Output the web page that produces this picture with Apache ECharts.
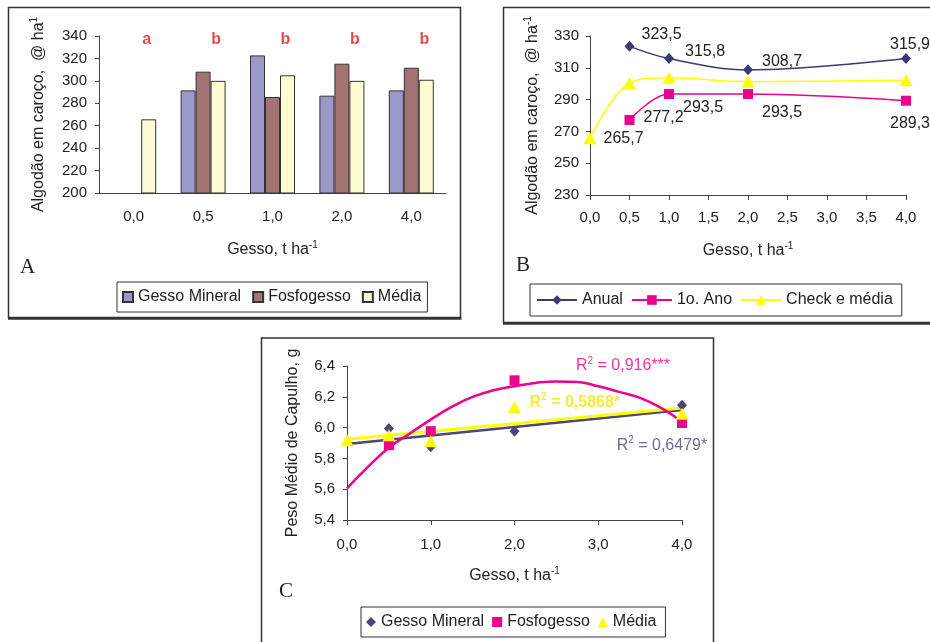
<!DOCTYPE html>
<html><head><meta charset="utf-8">
<script src="https://cdn.jsdelivr.net/npm/echarts@6/dist/echarts.min.js"></script>
<style>html,body{margin:0;padding:0;background:#fff}#c{width:930px;height:642px}</style>
</head><body><div id="c"></div>
<script>
// ---------- Panel A (bars) ----------
const catA = ['0,0', '0,5', '1,0', '2,0', '4,0'];
const gessoMineralA = [null, 291.5, 322.7, 286.8, 291.5];
const fosfogessoA = [null, 308.2, 285.6, 315.3, 311.7];
const mediaA = [265.7, 300.0, 305.0, 300.0, 301.0];
const lettersA = ['a', 'b', 'b', 'b', 'b'];
const lettersLevelA = 336.5;
const yTicksA = [200, 220, 240, 260, 280, 300, 320, 340];

// ---------- Panel B (lines) ----------
const doseB = [0, 0.5, 1.0, 2.0, 4.0];
const anualB = [null, 323.5, 315.8, 308.7, 315.9];
const primeiroAnoB = [null, 277.2, 293.5, 293.5, 289.3];
const checkMediaB = [265.7, 300.3, 303.8, 301.3, 302.1];
const yTicksB = [230, 250, 270, 290, 310, 330];
const xTicksB = [0, 0.5, 1.0, 1.5, 2.0, 2.5, 3.0, 3.5, 4.0];

// ---------- Panel C (scatter + trends) ----------
const doseC = [0, 0.5, 1.0, 2.0, 4.0];
const gessoMineralC = [null, 5.994, 5.875, 5.977, 6.145];
const fosfogessoC = [null, 5.886, 5.977, 6.307, 6.03];
const mediaC = [5.918, 5.95, 5.912, 6.134, 6.09];
const trendX = [0, 4];
const gmTrendC = [5.893, 6.115];
const mediaTrendC = [5.925, 6.128];
const fgCurveX = [0, 0.25, 0.5, 0.75, 1.0, 1.25, 1.5, 1.75, 2.0, 2.25, 2.5, 2.75, 3.0, 3.25, 3.5, 3.75, 4.0];
const fgCurveC = [5.605, 5.745, 5.869, 5.962, 6.052, 6.134, 6.199, 6.242, 6.268, 6.29, 6.30, 6.296, 6.268, 6.232, 6.193, 6.128, 6.037];
const r2Texts = ['0,916***', '0,5868*', '0,6479*'];
const r2AnchorX = [3.296, 2.72, 3.76];
const r2AnchorY = [6.4, 6.163, 5.886];
const yTicksC = [5.4, 5.6, 5.8, 6.0, 6.2, 6.4];
const xTicksC = [0, 1, 2, 3, 4];

// ---------- styling ----------
const FONT = '"Liberation Sans", Arial, Helvetica, sans-serif';
const TXT = '#222';
const AX = '#444';
const NAVY = '#3c3a72';
const MAG = '#ec008c';
const YEL = '#ffff00';
const CLEAR = 'rgba(0,0,0,0)';
const comma1 = v => Number(v).toFixed(1).replace('.', ',');
const pairs = (xs, ys) => xs.map((x, i) => ys[i] == null ? null : [x, ys[i]]).filter(p => p);
const supRich = {
  t: { fontSize: 16, color: TXT, fontFamily: FONT, lineHeight: 20 },
  s: { fontSize: 10, color: TXT, fontFamily: FONT, verticalAlign: 'top' }
};
function valueAxisCommon(extra) {
  return Object.assign({
    axisLine: { show: true, lineStyle: { color: AX, width: 1 } },
    axisTick: { show: true, length: 4, lineStyle: { color: AX } },
    splitLine: { show: false },
    axisLabel: { fontSize: 15, color: TXT, fontFamily: FONT },
    nameTextStyle: { rich: supRich }
  }, extra);
}

// label placements for panel B (style only)
const anualLabelPos = [null, ['right', 0, -12], ['right', 4, -7], ['right', 2, -8], ['top', 4, 7]];
const anoLabelPos = [null, ['right', 2, -2], ['right', 2, 14], ['right', 2, 19], ['bottom', 4, 3]];
const checkLabelPos = [['right', 0, 0], null, null, null, null];
function labeledData(ys, pos) {
  const out = [];
  doseB.forEach((x, i) => {
    if (ys[i] == null) return;
    const item = { value: [x, ys[i]] };
    if (pos[i]) {
      item.label = { show: true, position: pos[i][0], distance: 7, offset: [pos[i][1], pos[i][2]],
        formatter: p => comma1(p.value[1]), fontSize: 16, color: TXT, fontFamily: FONT };
    }
    out.push(item);
  });
  return out;
}

const r2Colors = [MAG, '#f2ea00', '#4a4878'];
const r2Weights = ['normal', 'bold', 'normal'];
const r2Data = pairs(r2AnchorX, r2AnchorY).map((v, i) => ({
  value: v,
  label: { rich: {
    r: { fontSize: 16, color: r2Colors[i], fontWeight: r2Weights[i], fontFamily: FONT, lineHeight: 20 },
    s: { fontSize: 10, color: r2Colors[i], fontWeight: r2Weights[i], fontFamily: FONT, verticalAlign: 'top' }
  } }
}));

const chart = echarts.init(document.getElementById('c'), null, { renderer: 'canvas' });
const option = {
  backgroundColor: '#fff',
  animation: false,
  textStyle: { fontFamily: FONT },
  grid: [
    { left: 99, top: 36, width: 347, height: 157 },
    { left: 590, top: 36, width: 316, height: 159 },
    { left: 347, top: 366, width: 335, height: 154 }
  ],
  xAxis: [
    {
      gridIndex: 0, type: 'category', data: catA,
      axisLine: { lineStyle: { color: AX } },
      axisTick: { length: 5, lineStyle: { color: AX } },
      axisLabel: { fontSize: 15, color: TXT, margin: 16, fontFamily: FONT },
      name: '{t|Gesso, t ha}{s|-1}', nameLocation: 'middle', nameGap: 47,
      nameTextStyle: { rich: supRich }
    },
    valueAxisCommon({
      gridIndex: 1, type: 'value', min: 0, max: 4,
      axisTick: { show: true, length: 5, lineStyle: { color: AX }, customValues: xTicksB },
      axisLabel: { fontSize: 15, color: TXT, fontFamily: FONT, margin: 15, customValues: xTicksB, formatter: comma1 },
      name: '{t|Gesso, t ha}{s|-1}', nameLocation: 'middle', nameGap: 46
    }),
    valueAxisCommon({
      gridIndex: 2, type: 'value', min: 0, max: 4,
      axisTick: { show: true, length: 5, lineStyle: { color: AX }, customValues: xTicksC },
      axisLabel: { fontSize: 15, color: TXT, fontFamily: FONT, margin: 17, customValues: xTicksC, formatter: comma1 },
      name: '{t|Gesso, t ha}{s|-1}', nameLocation: 'middle', nameGap: 46
    })
  ],
  yAxis: [
    valueAxisCommon({
      gridIndex: 0, type: 'value', min: 200, max: 340,
      axisTick: { show: true, length: 4, lineStyle: { color: AX }, customValues: yTicksA },
      axisLabel: { fontSize: 15, color: TXT, fontFamily: FONT, margin: 12, customValues: yTicksA },
      name: '{t|Algodão em caroço,  @ ha}{s|1}', nameLocation: 'middle', nameGap: 50
    }),
    valueAxisCommon({
      gridIndex: 1, type: 'value', min: 230, max: 330,
      axisTick: { show: true, length: 4, lineStyle: { color: AX }, customValues: yTicksB },
      axisLabel: { fontSize: 15, color: TXT, fontFamily: FONT, margin: 11, customValues: yTicksB },
      name: '{t|Algodão em caroço,  @ ha}{s|-1}', nameLocation: 'middle', nameGap: 47
    }),
    valueAxisCommon({
      gridIndex: 2, type: 'value', min: 5.4, max: 6.4,
      axisTick: { show: true, length: 4, lineStyle: { color: AX }, customValues: yTicksC },
      axisLabel: { fontSize: 15, color: TXT, fontFamily: FONT, margin: 12, customValues: yTicksC, formatter: comma1 },
      name: '{t|Peso Médio de Capulho, g}', nameLocation: 'middle', nameGap: 44
    })
  ],
  legend: [
    {
      left: 117, top: 282, icon: 'rect', itemWidth: 10, itemHeight: 10, itemGap: 11,
      data: ['Gesso Mineral', 'Fosfogesso', 'Média'],
      borderColor: '#333', borderWidth: 1, padding: [7, 6, 7, 5],
      textStyle: { fontSize: 16, color: TXT, fontFamily: FONT }, selectedMode: false
    },
    {
      left: 530, top: 284, itemWidth: 40, itemHeight: 12, itemGap: 8,
      data: ['Anual', '1o. Ano', 'Check e média'],
      borderColor: '#333', borderWidth: 1, padding: [8, 9, 8, 6],
      textStyle: { fontSize: 16, color: TXT, fontFamily: FONT }, selectedMode: false
    },
    {
      left: 361, top: 607, itemWidth: 10, itemHeight: 10, itemGap: 8,
      data: ['C:Gesso Mineral', 'C:Fosfogesso', 'C:Média'],
      formatter: n => n.replace(/^C:/, ''),
      borderColor: '#333', borderWidth: 1, padding: [7, 9, 7, 5],
      textStyle: { fontSize: 16, color: TXT, fontFamily: FONT }, selectedMode: false
    }
  ],
  series: [
    // Panel A bars
    { type: 'bar', name: 'Gesso Mineral', xAxisIndex: 0, yAxisIndex: 0, data: gessoMineralA,
      barWidth: 15, barGap: '0%', itemStyle: { color: '#9c98c9', borderColor: '#333', borderWidth: 1 } },
    { type: 'bar', name: 'Fosfogesso', xAxisIndex: 0, yAxisIndex: 0, data: fosfogessoA,
      barWidth: 15, barGap: '0%', itemStyle: { color: '#a37272', borderColor: '#333', borderWidth: 1 } },
    { type: 'bar', name: 'Média', xAxisIndex: 0, yAxisIndex: 0, data: mediaA,
      barWidth: 15, barGap: '0%', itemStyle: { color: '#fffbd2', borderColor: '#333', borderWidth: 1 } },
    { type: 'scatter', name: 'letters', xAxisIndex: 0, yAxisIndex: 0, silent: true, z: 5,
      data: lettersA.map(() => lettersLevelA), symbolSize: 2, itemStyle: { color: CLEAR },
      label: { show: true, position: 'inside', offset: [13, 0], formatter: p => lettersA[p.dataIndex],
        color: '#e01b1b', fontWeight: 'bold', fontSize: 16, fontFamily: FONT } },

    // Panel B lines
    { type: 'line', name: 'Anual', xAxisIndex: 1, yAxisIndex: 1, smooth: 0.35,
      symbol: 'diamond', symbolSize: [10, 11], data: labeledData(anualB, anualLabelPos),
      lineStyle: { color: NAVY, width: 1.5 }, itemStyle: { color: NAVY } },
    { type: 'line', name: '1o. Ano', xAxisIndex: 1, yAxisIndex: 1, smooth: 0.35,
      symbol: 'rect', symbolSize: 10, data: labeledData(primeiroAnoB, anoLabelPos),
      lineStyle: { color: MAG, width: 1.5 }, itemStyle: { color: MAG } },
    { type: 'line', name: 'Check e média', xAxisIndex: 1, yAxisIndex: 1, smooth: 0.35,
      symbol: 'triangle', symbolSize: [13, 12], data: labeledData(checkMediaB, checkLabelPos),
      lineStyle: { color: YEL, width: 1.5 }, itemStyle: { color: YEL } },

    // Panel C trend lines
    { type: 'line', name: 'trendGM', xAxisIndex: 2, yAxisIndex: 2, symbol: 'none', silent: true, z: 2,
      data: pairs(trendX, gmTrendC), lineStyle: { color: '#4a4878', width: 2.5 } },
    { type: 'line', name: 'trendMedia', xAxisIndex: 2, yAxisIndex: 2, symbol: 'none', silent: true, z: 2,
      data: pairs(trendX, mediaTrendC), lineStyle: { color: YEL, width: 3 } },
    { type: 'line', name: 'trendFG', xAxisIndex: 2, yAxisIndex: 2, symbol: 'none', silent: true, z: 2, smooth: true,
      data: pairs(fgCurveX, fgCurveC), lineStyle: { color: MAG, width: 2.5 } },

    // Panel C points
    { type: 'scatter', name: 'C:Gesso Mineral', xAxisIndex: 2, yAxisIndex: 2, z: 4,
      symbol: 'diamond', symbolSize: [10, 11], data: pairs(doseC, gessoMineralC), itemStyle: { color: '#48467a', opacity: 1 } },
    { type: 'scatter', name: 'C:Fosfogesso', xAxisIndex: 2, yAxisIndex: 2, z: 4,
      symbol: 'rect', symbolSize: 10, data: pairs(doseC, fosfogessoC), itemStyle: { color: MAG, opacity: 1 } },
    { type: 'scatter', name: 'C:Média', xAxisIndex: 2, yAxisIndex: 2, z: 4,
      symbol: 'triangle', symbolSize: [13, 12], data: pairs(doseC, mediaC), itemStyle: { color: YEL, opacity: 1 } },

    // Panel C R² annotations
    { type: 'scatter', name: 'r2', xAxisIndex: 2, yAxisIndex: 2, silent: true, z: 5, clip: false,
      data: r2Data, symbolSize: 2, itemStyle: { color: CLEAR },
      label: { show: true, position: 'inside',
        formatter: p => '{r|R}{s|2}{r| = ' + r2Texts[p.dataIndex] + '}' } }
  ],
  graphic: [
    { type: 'rect', shape: { x: 8.5, y: 7.5, width: 452, height: 310 }, style: { fill: 'none', stroke: '#333', lineWidth: 1.5 }, z: 0 },
    { type: 'line', shape: { x1: 8, y1: 318.5, x2: 461.5, y2: 318.5 }, style: { stroke: '#333', lineWidth: 2.5 } },
    { type: 'rect', shape: { x: 503.5, y: 7.5, width: 440, height: 315 }, style: { fill: 'none', stroke: '#333', lineWidth: 1.5 }, z: 0 },
    { type: 'line', shape: { x1: 503, y1: 323.5, x2: 940, y2: 323.5 }, style: { stroke: '#333', lineWidth: 2.5 } },
    { type: 'rect', shape: { x: 261.5, y: 338, width: 452, height: 330 }, style: { fill: 'none', stroke: '#333', lineWidth: 1.5 }, z: 0 },
    { type: 'text', left: 20, top: 257, style: { text: 'A', font: '21px "Liberation Serif", "Times New Roman", serif', fill: TXT } },
    { type: 'text', left: 516, top: 255, style: { text: 'B', font: '21px "Liberation Serif", "Times New Roman", serif', fill: TXT } },
    { type: 'text', left: 279, top: 581, style: { text: 'C', font: '21px "Liberation Serif", "Times New Roman", serif', fill: TXT } }
  ]
};
chart.setOption(option);
</script>
</body></html>
